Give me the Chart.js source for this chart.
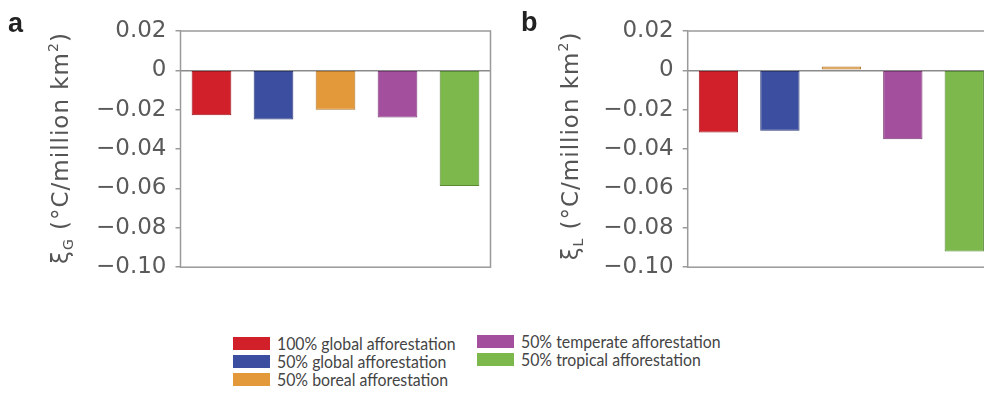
<!DOCTYPE html>
<html>
<head>
<meta charset="utf-8">
<script src="https://cdn.jsdelivr.net/npm/chart.js@4"></script>
<style>
  body { margin: 0; background: #fff; overflow: hidden; }
  #wrap { position: relative; width: 984px; height: 403px; overflow: hidden; }
  .panel { position: absolute; top: 0; }
  .letter { position: absolute; font: bold 27px "Liberation Sans", Arial, sans-serif; color: #222; }
  .leg { position: absolute; display: flex; align-items: center; height: 18px;
         font: 18px Lato, "Open Sans", sans-serif; color: #444; white-space: nowrap; }
  .leg span.sw { display: inline-block; width: 37px; height: 13px; margin-right: 7px; }
  .leg span.tx { display: inline-block; transform: scaleX(0.88); transform-origin: left center; }
</style>
</head>
<body>
<div id="wrap">
  <canvas id="chartA" class="panel" style="left:0px"></canvas>
  <canvas id="chartB" class="panel" style="left:490px"></canvas>
  <div class="letter" style="left:8px; top:8px">a</div>
  <div class="letter" style="left:521px; top:7px">b</div>
  <div id="legend"></div>
</div>
<script>
// afforestation scenarios
const categories = [
  '100% global afforestation',
  '50% global afforestation',
  '50% boreal afforestation',
  '50% temperate afforestation',
  '50% tropical afforestation'
];
const barColors = ['#d2202b', '#3c4e9f', '#e3993a', '#a44f9d', '#7cb84b'];
const edgeColors = ['#9c1820', '#2b3977', '#b0742a', '#7a3a75', '#5a8a36'];

// panel a: global temperature sensitivity, panel b: local
const globalValues = [-0.0228, -0.0250, -0.0200, -0.0240, -0.0587];
const localValues = [-0.0316, -0.0307, 0.0020, -0.0350, -0.0920];

const yTicks = [0.02, 0, -0.02, -0.04, -0.06, -0.08, -0.10];

const tickFont = { family: 'DejaVu Sans', size: 23 };

function fmtTick(v) {
  if (Math.abs(v) < 1e-9) return '0';
  const s = Math.abs(v).toFixed(2);
  return v < 0 ? '\u2212' + s : s;
}

// frame around the plot area + rotated axis title with subscript
const framePlugin = {
  id: 'frame',
  afterDraw(chart, args, opts) {
    const { ctx, chartArea: a } = chart;
    ctx.save();
    ctx.strokeStyle = '#9a9a9a';
    ctx.lineWidth = 1.5;
    ctx.strokeRect(a.left, a.top, a.right - a.left, a.bottom - a.top);

    // axis title
    const parts = [
      { t: '\u03be', size: 23, dy: 0 },
      { t: opts.sub, size: 14, dy: 5 },
      { t: ' (\u00b0C/million km', size: 23, dy: 0 },
      { t: '2', size: 14, dy: -10 },
      { t: ')', size: 23, dy: 0 }
    ];
    ctx.fillStyle = '#555';
    ctx.textBaseline = 'alphabetic';
    ctx.letterSpacing = '1px';
    let total = 0;
    parts.forEach(p => {
      ctx.font = p.size + 'px "DejaVu Sans"';
      p.w = ctx.measureText(p.t).width;
      total += p.w;
    });
    ctx.translate(opts.titleX, opts.titleY);
    ctx.rotate(-Math.PI / 2);
    let x = -total / 2;
    parts.forEach(p => {
      ctx.font = p.size + 'px "DejaVu Sans"';
      ctx.fillText(p.t, x, 8 + p.dy);
      x += p.w;
    });
    ctx.restore();
  }
};

function makeChart(id, values, opt) {
  const canvas = document.getElementById(id);
  canvas.width = opt.width;
  canvas.height = 290;
  canvas.style.width = opt.width + 'px';
  canvas.style.height = '290px';
  return new Chart(canvas, {
    type: 'bar',
    data: {
      labels: categories,
      datasets: [{
        data: values,
        backgroundColor: barColors,
        borderColor: edgeColors,
        borderWidth: 1,
        borderSkipped: false,
        barPercentage: 0.64,
        categoryPercentage: 1
      }]
    },
    options: {
      responsive: false,
      animation: false,
      layout: { padding: { left: 0, right: opt.padRight, top: 31, bottom: opt.padBottom } },
      plugins: {
        legend: { display: false },
        tooltip: { enabled: false },
        frame: { sub: opt.sub, titleX: opt.titleX, titleY: opt.titleY }
      },
      scales: {
        x: { display: false },
        y: {
          min: -0.10,
          max: 0.02,
          afterFit: s => { s.width = opt.axisWidth; },
          afterBuildTicks: s => { s.ticks = yTicks.map(v => ({ value: v })); },
          ticks: {
            font: tickFont,
            color: '#5a5a5a',
            padding: 9,
            callback: v => fmtTick(v)
          },
          grid: {
            color: c => (c.tick && Math.abs(c.tick.value) < 1e-9) ? '#8a8a8a' : 'rgba(0,0,0,0)',
            tickColor: '#9a9a9a',
            tickLength: 5,
            lineWidth: 1.5
          },
          border: { display: false }
        }
      }
    },
    plugins: [framePlugin]
  });
}

makeChart('chartA', globalValues, { width: 500, axisWidth: 180.5, padRight: 9.5, padBottom: 22, sub: 'G', titleX: 60, titleY: 148 });
makeChart('chartB', localValues, { width: 520, axisWidth: 197.7, padRight: 15, padBottom: 20, sub: 'L', titleX: 80, titleY: 146 });

// legend in two columns, filled top to bottom
const legend = document.getElementById('legend');
categories.forEach((name, i) => {
  const col = i < 3 ? 0 : 1;
  const row = i < 3 ? i : i - 3;
  const el = document.createElement('div');
  el.className = 'leg';
  el.style.left = (col === 0 ? 233 : 477) + 'px';
  el.style.top = ((col === 0 ? 334 : 332) + row * 18) + 'px';
  el.innerHTML = '<span class="sw" style="background:' + barColors[i] + '"></span><span class="tx">' + name + '</span>';
  legend.appendChild(el);
});
</script>
</body>
</html>
